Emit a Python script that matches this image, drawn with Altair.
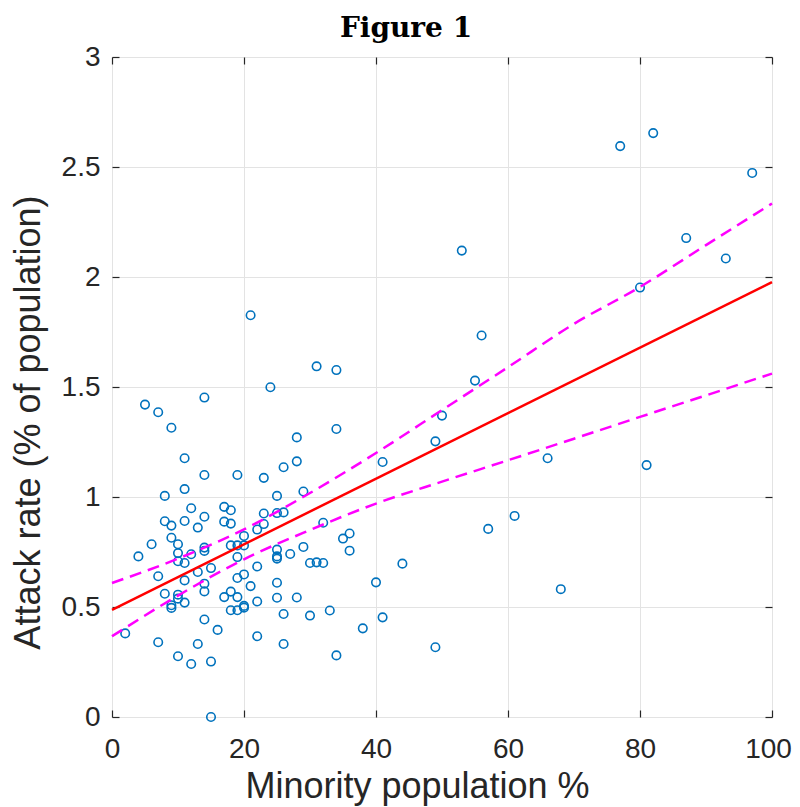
import altair as alt
import pandas as pd

# ---- data ----
pts_x = [2, 4, 5, 6,
         7, 7, 7,
         8, 8, 8,
         9, 9, 9, 9, 9,
         10, 10, 10, 10, 10, 10,
         11, 11, 11, 11, 11, 11,
         12, 12, 12,
         13, 13, 13,
         14, 14, 14, 14, 14, 14, 14, 14,
         15, 15, 15,
         16,
         17, 17, 17,
         18, 18, 18, 18, 18,
         19, 19, 19, 19, 19, 19,
         20, 20, 20, 20, 20,
         21, 21,
         22, 22, 22, 22,
         23, 23, 23,
         24,
         25, 25, 25, 25, 25, 25, 25,
         26, 26, 26, 26,
         27,
         28, 28, 28,
         29, 29,
         30, 30,
         31, 31,
         32, 32,
         33,
         34, 34, 34,
         35,
         36, 36,
         38, 40, 41, 41, 44,
         49, 49, 50, 53, 55, 56, 57, 61, 66, 68,
         77, 80, 81, 82, 87, 93, 97]
pts_y = [0.38, 0.73, 1.42, 0.785,
         1.385, 0.64, 0.34,
         1.005, 0.89, 0.56,
         1.315, 0.87, 0.815, 0.508, 0.496,
         0.785, 0.745, 0.708, 0.556, 0.538, 0.276,
         1.176, 1.036, 0.891, 0.70, 0.621, 0.52,
         0.949, 0.74, 0.241,
         0.861, 0.659, 0.332,
         1.452, 1.10, 0.91, 0.77, 0.755, 0.606, 0.571, 0.443,
         0.677, 0.252, 0.0,
         0.396,
         0.955, 0.888, 0.545,
         0.94, 0.879, 0.78, 0.57, 0.485,
         1.10, 0.78, 0.727, 0.632, 0.545, 0.485,
         0.823, 0.78, 0.648, 0.505, 0.497,
         1.826, 0.595,
         0.852, 0.684, 0.525, 0.367,
         1.087, 0.925, 0.877,
         1.499,
         1.005, 0.927, 0.761, 0.73, 0.72, 0.61, 0.542,
         1.135, 0.93, 0.468, 0.332,
         0.741,
         1.271, 1.162, 0.543,
         1.025, 0.773,
         0.70, 0.461,
         1.594, 0.703,
         0.883, 0.70,
         0.484,
         1.577, 1.309, 0.28,
         0.811,
         0.834, 0.756,
         0.403, 0.612, 1.159, 0.453, 0.697,
         1.253, 0.317, 1.37, 2.12, 1.529, 1.734, 0.855, 0.914, 1.176, 0.581,
         2.595, 1.952, 1.145, 2.654, 2.177, 2.084, 2.473]

fit_x = [0, 100]
fit_y = [0.487, 1.977]

band_x = [0, 10, 20, 30, 40, 50, 60, 70, 80, 90, 100]
band_upper = [0.609, 0.720, 0.853, 1.018, 1.200, 1.395, 1.590, 1.787, 1.955, 2.145, 2.334]
band_lower = [0.367, 0.552, 0.717, 0.850, 0.970, 1.070, 1.167, 1.265, 1.364, 1.462, 1.561]

x_ticks = [0, 20, 40, 60, 80, 100]
y_ticks = [0, 0.5, 1, 1.5, 2, 2.5, 3]

title_text = "Figure 1"
x_title = "Minority population %"
y_title = "Attack rate (% of population)"

# ---- chart ----
FONT = "Liberation Sans"
DARK = "#262626"
W = 660
H = 660

pts = pd.DataFrame({"x": pts_x, "y": pts_y})
fit = pd.DataFrame({"x": fit_x, "y": fit_y})
upper = pd.DataFrame({"x": band_x, "y": band_upper})
lower = pd.DataFrame({"x": band_x, "y": band_lower})
ttl = pd.DataFrame({"t": [title_text]})

xs = alt.Scale(domain=[0, 100], nice=False, zero=False)
ys = alt.Scale(domain=[0, 3], nice=False, zero=False)

x_main = alt.Axis(orient="bottom", values=x_ticks, grid=True, gridColor="#e3e3e3", gridWidth=1,
                  ticks=False, domain=False, labelFont=FONT, labelFontSize=28, labelColor=DARK,
                  labelPadding=40, labelBaseline="alphabetic", labelFlush=False, labelOverlap=False,
                  labelOffset={"condition": {"test": "datum.value == 100", "value": -4}, "value": 0},
                  format="d", title=x_title, titleFont=FONT, titleFontSize=36,
                  titleFontWeight="normal", titleColor=DARK, titleX=305, titleY=80,
                  titleBaseline="alphabetic", titleAlign="center")
y_main = alt.Axis(orient="left", values=y_ticks, grid=True, gridColor="#e3e3e3", gridWidth=1,
                  ticks=False, domain=False, labelFont=FONT, labelFontSize=28, labelColor=DARK,
                  labelPadding=12, labelFlush=False, labelOverlap=False, format="~g",
                  title=y_title, titleFont=FONT, titleFontSize=36, titleFontWeight="normal",
                  titleColor=DARK, titleX=-73, titleY=365, titleBaseline="alphabetic",
                  titleAlign="center", titleAngle=270)


def tick_axis(orient, values):
    return alt.Axis(orient=orient, values=values, labels=False, grid=False, domain=False,
                    ticks=True, tickSize=7, tickColor=DARK, tickWidth=1.2, title=None, offset=-W)


points = alt.Chart(pts).mark_point(shape="circle", filled=False, color="#0072BD", size=72,
                                   strokeWidth=1.6, opacity=1).encode(
    x=alt.X("x:Q", scale=xs, axis=x_main),
    y=alt.Y("y:Q", scale=ys, axis=y_main),
)

fit_line = alt.Chart(fit).mark_line(color="#FF0000", strokeWidth=2.5).encode(
    x=alt.X("x:Q", scale=xs, axis=tick_axis("top", x_ticks)),
    y=alt.Y("y:Q", scale=ys, axis=tick_axis("right", y_ticks)),
)

upper_line = alt.Chart(upper).mark_line(color="#FF00FF", strokeWidth=2.5, strokeDash=[12, 7],
                                        interpolate="monotone").encode(
    x=alt.X("x:Q", scale=xs, axis=tick_axis("bottom", x_ticks)),
    y=alt.Y("y:Q", scale=ys, axis=tick_axis("left", y_ticks)),
)

lower_line = alt.Chart(lower).mark_line(color="#FF00FF", strokeWidth=2.5, strokeDash=[12, 7],
                                        interpolate="monotone").encode(
    x=alt.X("x:Q", scale=xs, axis=None),
    y=alt.Y("y:Q", scale=ys, axis=None),
)

title_mark = alt.Chart(ttl).mark_text(font="DejaVu Serif", fontSize=28, fontWeight="bold",
                                      color="black", align="center", baseline="alphabetic").encode(
    text="t:N",
    x=alt.value(294),
    y=alt.value(-20),
)

chart = alt.layer(points, fit_line, upper_line, lower_line, title_mark).resolve_axis(
    x="independent", y="independent"
).properties(
    width=W, height=H,
    autosize=alt.AutoSizeParams(type="none"),
    padding={"left": 104, "top": 49, "right": 20, "bottom": 100},
).configure_view(stroke=DARK, strokeWidth=1.2).configure(background="white")

chart.save("out.html", embed_options={"renderer": "svg", "actions": False})
